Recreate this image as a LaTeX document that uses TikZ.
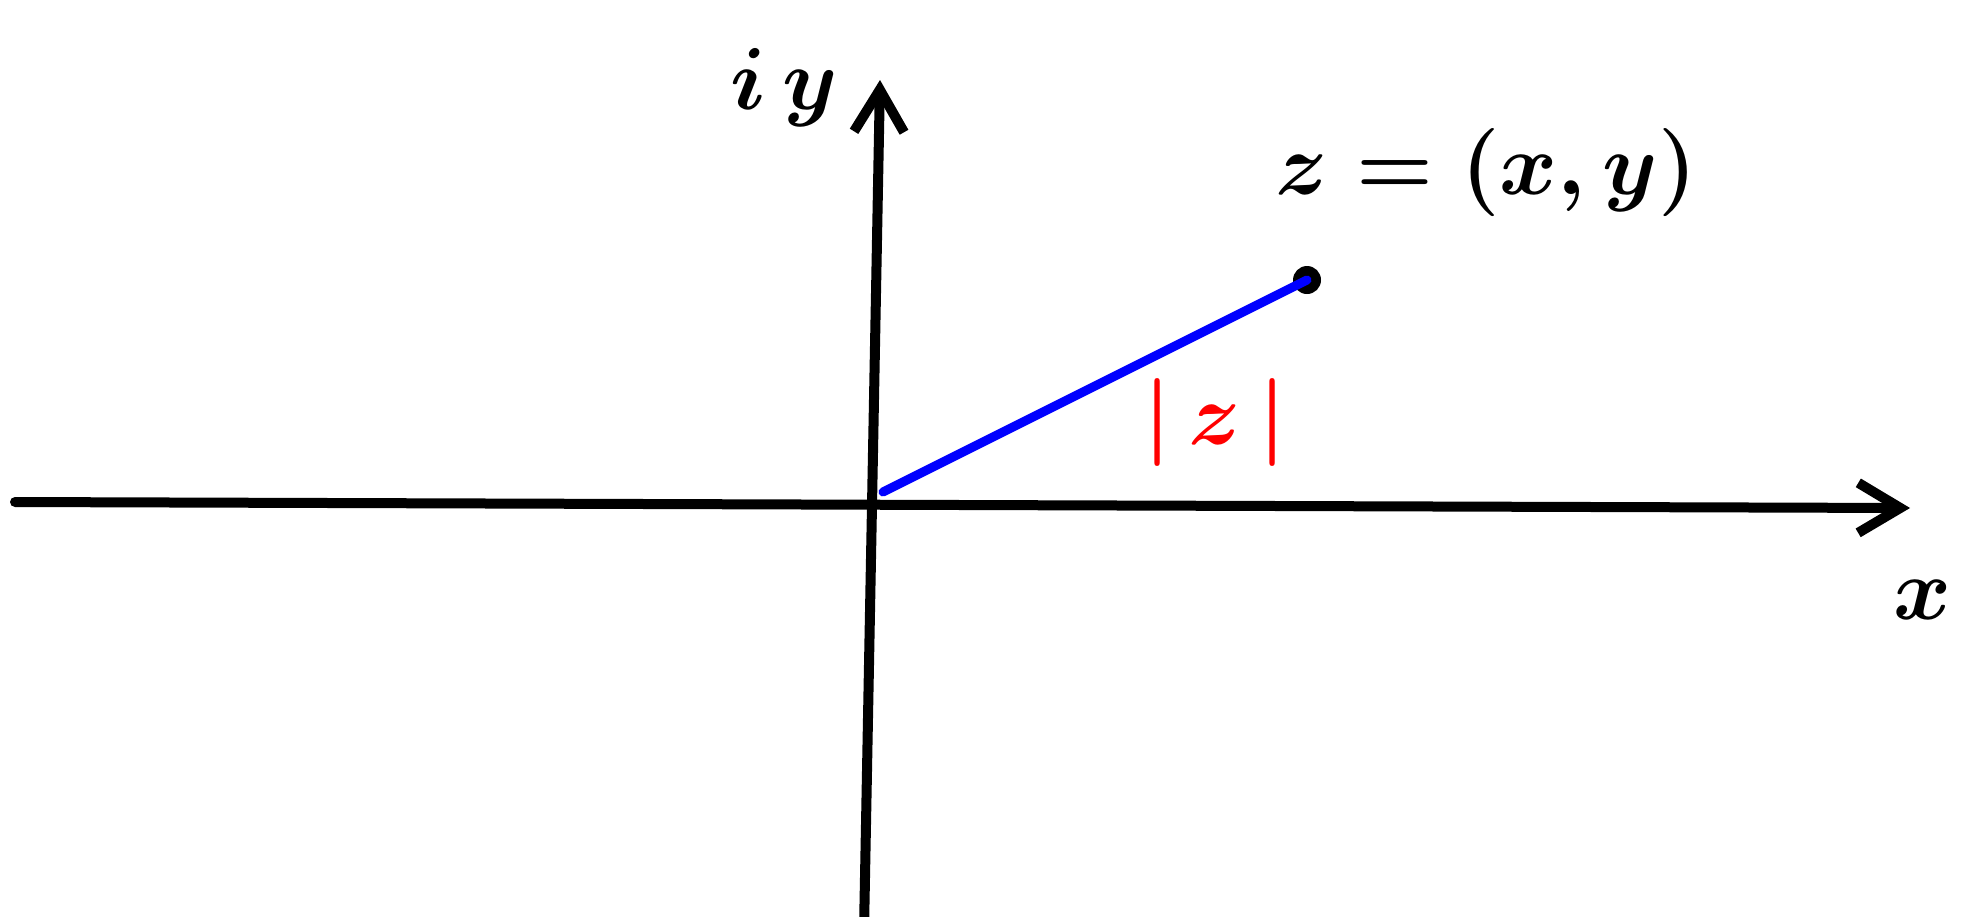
\RequirePackage{fix-cm}
\documentclass[tikz,border=0pt]{standalone}
\usepackage{xcolor}
\usepackage{tikz}
\usetikzlibrary{positioning, arrows.meta}

\begin{document}
\begin{tikzpicture}[
      x=0.5pt, y=-0.5pt,
      font=\fontsize{44}{50}\selectfont\boldmath,
      axis/.style={line width=5pt, line cap=round, -{Straight Barb[length=21pt, width=25pt, line width=5pt]}},
      modline/.style={draw=blue, line width=4.5pt, line cap=round},
      dot/.style={circle, fill=black, minimum size=14pt, inner sep=0pt},
      lbl/.style={inner sep=0pt},
    ]
    \useasboundingbox (0,0) rectangle (1962,916);

    % Axes
    \coordinate (xl) at (15,502);
    \coordinate (xr) at (1910,508);
    \coordinate (yb) at (864,930);
    \coordinate (yt) at (880,80);
    \draw[axis] (xl) -- (xr);
    \draw[axis] (yb) -- (yt);

    % Point z and its modulus
    \coordinate (o) at (883,492);
    \node[dot] (z) at (1307,280) {};
    \draw[modline] (o) -- (z.center);

    % Labels
    \node[lbl] (iy) at (784,88) {$i\,y$};
    \node[lbl] (xlab) at (1922,600) {$x$};
    \node[lbl] (zlab) at (1486,172) {$z=(x,y)$};
    \node[lbl, text=red] (abs) at (1215,422) {$|\,z\,|$};
  \end{tikzpicture}
\end{document}
